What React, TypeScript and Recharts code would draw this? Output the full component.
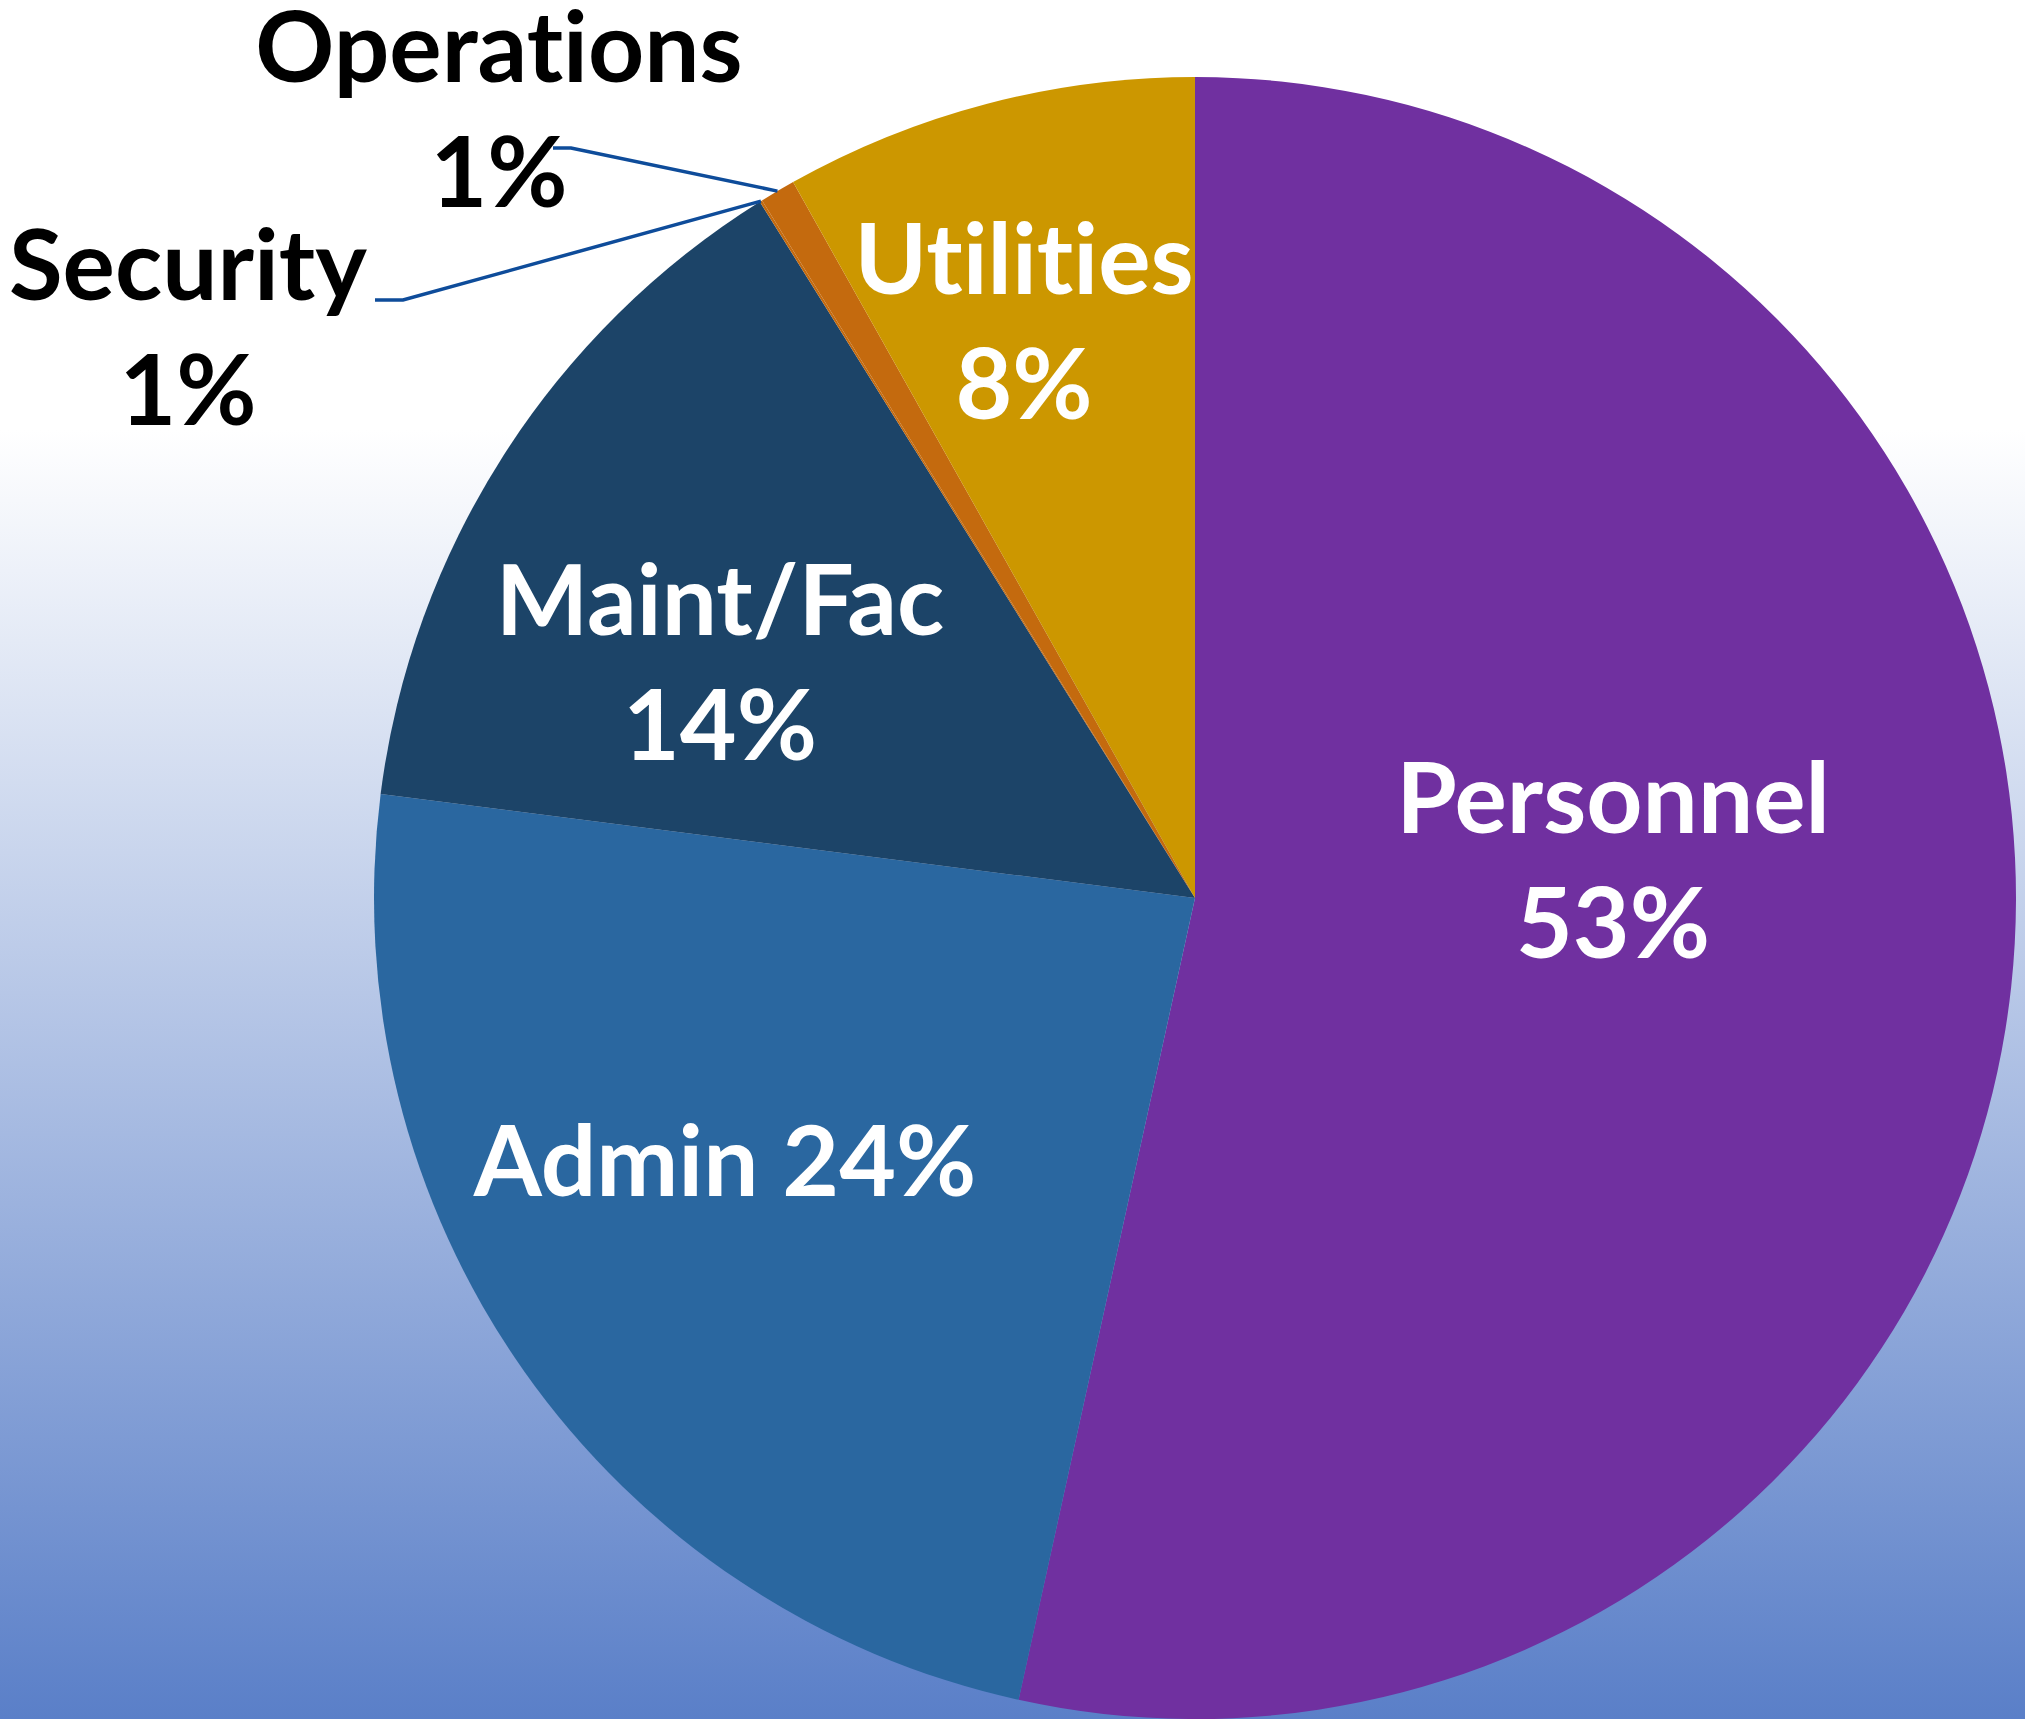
import React from 'react';
import { PieChart, Pie, Cell } from 'recharts';

// ---- data ----
const categories = ['Personnel', 'Admin', 'Maint/Fac', 'Security', 'Operations', 'Utilities'];
const shares = [53.5, 23.6, 14.1, 0.05, 0.7, 8.15];
const percentLabels = ['53%', '24%', '14%', '1%', '1%', '8%'];

// ---- style ----
const sliceColors = ['#7030A0', '#2A67A0', '#1C4468', '#C46A0E', '#C46A0E', '#CC9700'];
const FONT = 'Lato, "Open Sans", sans-serif';
const FONT_SIZE = 98;
const LINE_H = 125;

// label layout relative to the pie centre (text block anchor, line style)
type Layout = {
  dx: number;
  dy: number;
  lines: 'two' | 'one';
  color: string;
  leader?: { elbow: [number, number]; end: [number, number] };
};
const layouts: Layout[] = [
  { dx: 418, dy: -65, lines: 'two', color: '#ffffff' },
  { dx: -470, dy: 298, lines: 'one', color: '#ffffff' },
  { dx: -475, dy: -263, lines: 'two', color: '#ffffff' },
  { dx: -1007, dy: -598, lines: 'two', color: '#000000', leader: { elbow: [-792, -598], end: [-820, -598] } },
  { dx: -696, dy: -816, lines: 'two', color: '#000000', leader: { elbow: [-624, -750], end: [-642, -750] } },
  { dx: -171, dy: -604, lines: 'two', color: '#ffffff' },
];

const data = categories.map((name, i) => ({ name, value: shares[i] }));

const RAD = Math.PI / 180;

const textStyle: React.CSSProperties = {
  fontVariantLigatures: 'none',
  fontFeatureSettings: '"liga" 0, "clig" 0',
};

const renderLabel = (props: any) => {
  const { cx, cy, midAngle, outerRadius, index } = props;
  const L = layouts[index];
  const x = cx + L.dx;
  const y = cy + L.dy;
  const name = categories[index];
  const pct = percentLabels[index];
  let leader = null;
  if (L.leader) {
    const sx = cx + outerRadius * Math.cos(-midAngle * RAD);
    const sy = cy + outerRadius * Math.sin(-midAngle * RAD);
    const ex = cx + L.leader.elbow[0];
    const ey = cy + L.leader.elbow[1];
    const fx = cx + L.leader.end[0];
    const fy = cy + L.leader.end[1];
    leader = (
      <polyline
        points={`${sx},${sy} ${ex},${ey} ${fx},${fy}`}
        fill="none"
        stroke="#0E4C9A"
        strokeWidth={3.5}
      />
    );
  }
  return (
    <g key={`lbl-${index}`}>
      {leader}
      <text
        x={x}
        y={y}
        textAnchor="middle"
        fill={L.color}
        fontFamily={FONT}
        fontWeight={700}
        fontSize={FONT_SIZE}
        style={textStyle}
      >
        {L.lines === 'two' ? (
          <>
            <tspan x={x} y={y}>{name}</tspan>
            <tspan x={x} y={y + LINE_H}>{pct}</tspan>
          </>
        ) : (
          <tspan x={x} y={y}>{`${name} ${pct}`}</tspan>
        )}
      </text>
    </g>
  );
};

export default function App() {
  return (
    <div
      style={{
        position: 'absolute',
        left: 0,
        top: 0,
        width: 2025,
        height: 1719,
        overflow: 'hidden',
        background: 'linear-gradient(to bottom, #ffffff 0px, #ffffff 430px, #5a7fc8 1719px)',
      }}
    >
      <PieChart width={2025} height={1719} margin={{ top: 0, right: 0, bottom: 0, left: 0 }}>
        <Pie
          data={data}
          dataKey="value"
          nameKey="name"
          cx={1195}
          cy={898}
          outerRadius={821}
          startAngle={90}
          endAngle={-270}
          stroke="none"
          isAnimationActive={false}
          labelLine={false}
          label={renderLabel}
        >
          {data.map((d, i) => (
            <Cell key={d.name} fill={sliceColors[i]} />
          ))}
        </Pie>
      </PieChart>
    </div>
  );
}
